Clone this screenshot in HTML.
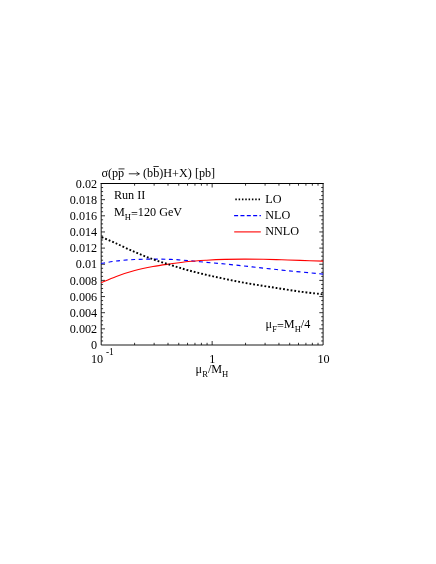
<!DOCTYPE html>
<html><head><meta charset="utf-8"><title>plot</title>
<style>
html,body{margin:0;padding:0;background:#fff;}
body{width:436px;height:564px;overflow:hidden;}
svg{display:block;}
text{font-family:"Liberation Serif",serif;font-size:12.2px;fill:#000;}
.s{font-size:8.6px;}
.ax line{stroke:#000;stroke-width:0.8;}
</style></head><body>
<svg width="436" height="564" viewBox="0 0 436 564">
<rect x="0" y="0" width="436" height="564" fill="#fff"/>
<g style="will-change:transform;mix-blend-mode:multiply">
<g class="ax">
<path d="M101.20 183.50 H323.10" fill="none" stroke="#000" stroke-width="1" stroke-linecap="square"/>
<path d="M101.20 183.50 V345.00 H323.10 V183.50" fill="none" stroke="#000" stroke-width="0.9" stroke-linecap="square"/>
<line x1="101.20" y1="340.96" x2="103.10" y2="340.96"/>
<line x1="323.10" y1="340.96" x2="321.20" y2="340.96"/>
<line x1="101.20" y1="336.93" x2="103.10" y2="336.93"/>
<line x1="323.10" y1="336.93" x2="321.20" y2="336.93"/>
<line x1="101.20" y1="332.89" x2="103.10" y2="332.89"/>
<line x1="323.10" y1="332.89" x2="321.20" y2="332.89"/>
<line x1="101.20" y1="328.85" x2="105.00" y2="328.85"/>
<line x1="323.10" y1="328.85" x2="319.30" y2="328.85"/>
<line x1="101.20" y1="324.81" x2="103.10" y2="324.81"/>
<line x1="323.10" y1="324.81" x2="321.20" y2="324.81"/>
<line x1="101.20" y1="320.77" x2="103.10" y2="320.77"/>
<line x1="323.10" y1="320.77" x2="321.20" y2="320.77"/>
<line x1="101.20" y1="316.74" x2="103.10" y2="316.74"/>
<line x1="323.10" y1="316.74" x2="321.20" y2="316.74"/>
<line x1="101.20" y1="312.70" x2="105.00" y2="312.70"/>
<line x1="323.10" y1="312.70" x2="319.30" y2="312.70"/>
<line x1="101.20" y1="308.66" x2="103.10" y2="308.66"/>
<line x1="323.10" y1="308.66" x2="321.20" y2="308.66"/>
<line x1="101.20" y1="304.62" x2="103.10" y2="304.62"/>
<line x1="323.10" y1="304.62" x2="321.20" y2="304.62"/>
<line x1="101.20" y1="300.59" x2="103.10" y2="300.59"/>
<line x1="323.10" y1="300.59" x2="321.20" y2="300.59"/>
<line x1="101.20" y1="296.55" x2="105.00" y2="296.55"/>
<line x1="323.10" y1="296.55" x2="319.30" y2="296.55"/>
<line x1="101.20" y1="292.51" x2="103.10" y2="292.51"/>
<line x1="323.10" y1="292.51" x2="321.20" y2="292.51"/>
<line x1="101.20" y1="288.48" x2="103.10" y2="288.48"/>
<line x1="323.10" y1="288.48" x2="321.20" y2="288.48"/>
<line x1="101.20" y1="284.44" x2="103.10" y2="284.44"/>
<line x1="323.10" y1="284.44" x2="321.20" y2="284.44"/>
<line x1="101.20" y1="280.40" x2="105.00" y2="280.40"/>
<line x1="323.10" y1="280.40" x2="319.30" y2="280.40"/>
<line x1="101.20" y1="276.36" x2="103.10" y2="276.36"/>
<line x1="323.10" y1="276.36" x2="321.20" y2="276.36"/>
<line x1="101.20" y1="272.32" x2="103.10" y2="272.32"/>
<line x1="323.10" y1="272.32" x2="321.20" y2="272.32"/>
<line x1="101.20" y1="268.29" x2="103.10" y2="268.29"/>
<line x1="323.10" y1="268.29" x2="321.20" y2="268.29"/>
<line x1="101.20" y1="264.25" x2="105.00" y2="264.25"/>
<line x1="323.10" y1="264.25" x2="319.30" y2="264.25"/>
<line x1="101.20" y1="260.21" x2="103.10" y2="260.21"/>
<line x1="323.10" y1="260.21" x2="321.20" y2="260.21"/>
<line x1="101.20" y1="256.18" x2="103.10" y2="256.18"/>
<line x1="323.10" y1="256.18" x2="321.20" y2="256.18"/>
<line x1="101.20" y1="252.14" x2="103.10" y2="252.14"/>
<line x1="323.10" y1="252.14" x2="321.20" y2="252.14"/>
<line x1="101.20" y1="248.10" x2="105.00" y2="248.10"/>
<line x1="323.10" y1="248.10" x2="319.30" y2="248.10"/>
<line x1="101.20" y1="244.06" x2="103.10" y2="244.06"/>
<line x1="323.10" y1="244.06" x2="321.20" y2="244.06"/>
<line x1="101.20" y1="240.02" x2="103.10" y2="240.02"/>
<line x1="323.10" y1="240.02" x2="321.20" y2="240.02"/>
<line x1="101.20" y1="235.99" x2="103.10" y2="235.99"/>
<line x1="323.10" y1="235.99" x2="321.20" y2="235.99"/>
<line x1="101.20" y1="231.95" x2="105.00" y2="231.95"/>
<line x1="323.10" y1="231.95" x2="319.30" y2="231.95"/>
<line x1="101.20" y1="227.91" x2="103.10" y2="227.91"/>
<line x1="323.10" y1="227.91" x2="321.20" y2="227.91"/>
<line x1="101.20" y1="223.88" x2="103.10" y2="223.88"/>
<line x1="323.10" y1="223.88" x2="321.20" y2="223.88"/>
<line x1="101.20" y1="219.84" x2="103.10" y2="219.84"/>
<line x1="323.10" y1="219.84" x2="321.20" y2="219.84"/>
<line x1="101.20" y1="215.80" x2="105.00" y2="215.80"/>
<line x1="323.10" y1="215.80" x2="319.30" y2="215.80"/>
<line x1="101.20" y1="211.76" x2="103.10" y2="211.76"/>
<line x1="323.10" y1="211.76" x2="321.20" y2="211.76"/>
<line x1="101.20" y1="207.72" x2="103.10" y2="207.72"/>
<line x1="323.10" y1="207.72" x2="321.20" y2="207.72"/>
<line x1="101.20" y1="203.69" x2="103.10" y2="203.69"/>
<line x1="323.10" y1="203.69" x2="321.20" y2="203.69"/>
<line x1="101.20" y1="199.65" x2="105.00" y2="199.65"/>
<line x1="323.10" y1="199.65" x2="319.30" y2="199.65"/>
<line x1="101.20" y1="195.61" x2="103.10" y2="195.61"/>
<line x1="323.10" y1="195.61" x2="321.20" y2="195.61"/>
<line x1="101.20" y1="191.58" x2="103.10" y2="191.58"/>
<line x1="323.10" y1="191.58" x2="321.20" y2="191.58"/>
<line x1="101.20" y1="187.54" x2="103.10" y2="187.54"/>
<line x1="323.10" y1="187.54" x2="321.20" y2="187.54"/>
<line x1="134.60" y1="345.00" x2="134.60" y2="342.80"/>
<line x1="134.60" y1="183.50" x2="134.60" y2="185.70"/>
<line x1="154.14" y1="345.00" x2="154.14" y2="342.80"/>
<line x1="154.14" y1="183.50" x2="154.14" y2="185.70"/>
<line x1="168.00" y1="345.00" x2="168.00" y2="342.80"/>
<line x1="168.00" y1="183.50" x2="168.00" y2="185.70"/>
<line x1="178.75" y1="345.00" x2="178.75" y2="342.80"/>
<line x1="178.75" y1="183.50" x2="178.75" y2="185.70"/>
<line x1="187.54" y1="345.00" x2="187.54" y2="342.80"/>
<line x1="187.54" y1="183.50" x2="187.54" y2="185.70"/>
<line x1="194.96" y1="345.00" x2="194.96" y2="342.80"/>
<line x1="194.96" y1="183.50" x2="194.96" y2="185.70"/>
<line x1="201.40" y1="345.00" x2="201.40" y2="342.80"/>
<line x1="201.40" y1="183.50" x2="201.40" y2="185.70"/>
<line x1="207.07" y1="345.00" x2="207.07" y2="342.80"/>
<line x1="207.07" y1="183.50" x2="207.07" y2="185.70"/>
<line x1="212.15" y1="345.00" x2="212.15" y2="341.00"/>
<line x1="212.15" y1="183.50" x2="212.15" y2="187.50"/>
<line x1="245.55" y1="345.00" x2="245.55" y2="342.80"/>
<line x1="245.55" y1="183.50" x2="245.55" y2="185.70"/>
<line x1="265.09" y1="345.00" x2="265.09" y2="342.80"/>
<line x1="265.09" y1="183.50" x2="265.09" y2="185.70"/>
<line x1="278.95" y1="345.00" x2="278.95" y2="342.80"/>
<line x1="278.95" y1="183.50" x2="278.95" y2="185.70"/>
<line x1="289.70" y1="345.00" x2="289.70" y2="342.80"/>
<line x1="289.70" y1="183.50" x2="289.70" y2="185.70"/>
<line x1="298.49" y1="345.00" x2="298.49" y2="342.80"/>
<line x1="298.49" y1="183.50" x2="298.49" y2="185.70"/>
<line x1="305.91" y1="345.00" x2="305.91" y2="342.80"/>
<line x1="305.91" y1="183.50" x2="305.91" y2="185.70"/>
<line x1="312.35" y1="345.00" x2="312.35" y2="342.80"/>
<line x1="312.35" y1="183.50" x2="312.35" y2="185.70"/>
<line x1="318.02" y1="345.00" x2="318.02" y2="342.80"/>
<line x1="318.02" y1="183.50" x2="318.02" y2="185.70"/>
</g>
<path d="M101.20 263.60 C103.72 263.17 110.72 261.68 116.30 261.00 C121.88 260.32 128.58 259.82 134.70 259.50 C140.82 259.18 146.95 259.12 153.00 259.10 C159.05 259.08 165.12 259.15 171.00 259.40 C176.88 259.65 182.35 260.10 188.30 260.60 C194.25 261.10 200.58 261.83 206.70 262.40 C212.82 262.97 218.78 263.40 225.00 264.00 C231.22 264.60 237.62 265.32 244.00 266.00 C250.38 266.68 257.02 267.42 263.30 268.10 C269.58 268.78 275.58 269.47 281.70 270.10 C287.82 270.73 293.10 271.23 300.00 271.90 C306.90 272.57 319.25 273.73 323.10 274.10" fill="none" stroke="#0000ff" stroke-width="1.15" stroke-dasharray="4 3.55"/>
<path d="M101.20 282.80 C103.72 281.73 110.72 278.45 116.30 276.40 C121.88 274.35 128.58 272.15 134.70 270.50 C140.82 268.85 146.95 267.62 153.00 266.50 C159.05 265.38 165.12 264.63 171.00 263.80 C176.88 262.97 182.35 262.10 188.30 261.50 C194.25 260.90 200.58 260.55 206.70 260.20 C212.82 259.85 218.78 259.58 225.00 259.40 C231.22 259.22 237.62 259.12 244.00 259.10 C250.38 259.08 257.02 259.18 263.30 259.30 C269.58 259.42 275.58 259.62 281.70 259.80 C287.82 259.98 293.10 260.18 300.00 260.40 C306.90 260.62 319.25 260.98 323.10 261.10" fill="none" stroke="#ff0000" stroke-width="1.1"/>
<path d="M101.20 236.90 C103.72 238.00 110.72 240.98 116.30 243.50 C121.88 246.02 128.58 249.37 134.70 252.00 C140.82 254.63 146.85 257.08 153.00 259.30 C159.15 261.52 165.72 263.47 171.60 265.30 C177.48 267.13 182.45 268.70 188.30 270.30 C194.15 271.90 200.58 273.47 206.70 274.90 C212.82 276.33 218.78 277.60 225.00 278.90 C231.22 280.20 237.62 281.53 244.00 282.70 C250.38 283.87 257.02 284.88 263.30 285.90 C269.58 286.92 275.58 287.85 281.70 288.80 C287.82 289.75 293.88 290.77 300.00 291.60 C306.12 292.43 314.55 293.33 318.40 293.80 C322.25 294.27 322.32 294.30 323.10 294.40" fill="none" stroke="#000" stroke-width="1.9" stroke-dasharray="1.8 1.989" stroke-dashoffset="-0.65"/>
<g>
<text x="97.2" y="349.10" text-anchor="end">0</text>
<text x="97.2" y="332.95" text-anchor="end">0.002</text>
<text x="97.2" y="316.80" text-anchor="end">0.004</text>
<text x="97.2" y="300.65" text-anchor="end">0.006</text>
<text x="97.2" y="284.50" text-anchor="end">0.008</text>
<text x="97.2" y="268.35" text-anchor="end">0.01</text>
<text x="97.2" y="252.20" text-anchor="end">0.012</text>
<text x="97.2" y="236.05" text-anchor="end">0.014</text>
<text x="97.2" y="219.90" text-anchor="end">0.016</text>
<text x="97.2" y="203.75" text-anchor="end">0.018</text>
<text x="97.2" y="187.60" text-anchor="end">0.02</text>
</g>
<!-- title -->
<text x="101.4" y="176.6">σ(pp</text>
<text x="215.2" y="176.6" text-anchor="end">(bb)H<tspan dy="1.4">+</tspan><tspan dy="-1.4">X) [pb]</tspan></text>
<path d="M128.8 173.8 H139.2 M136.6 171.7 Q137.6 173.4 139.4 173.8 Q137.6 174.2 136.6 175.9" fill="none" stroke="#000" stroke-width="0.8"/>
<line x1="118.5" y1="168.9" x2="124.5" y2="168.9" stroke="#000" stroke-width="0.8"/>
<line x1="153.4" y1="166.5" x2="158.8" y2="166.5" stroke="#000" stroke-width="0.8"/>
<!-- annotations -->
<text x="113.9" y="199.4">Run II</text>
<text x="113.9" y="215.6">M<tspan class="s" dy="4.3">H</tspan><tspan dy="-2.4">=</tspan><tspan dy="-1.9">120 GeV</tspan></text>
<text x="265.6" y="328.3">μ<tspan class="s" dy="3.4">F</tspan><tspan dy="-1.5">=</tspan><tspan dy="-1.9">M</tspan><tspan class="s" dy="3.4">H</tspan><tspan dy="-3.4">/4</tspan></text>
<!-- legend -->
<line x1="235.3" y1="199.4" x2="260" y2="199.4" stroke="#000" stroke-width="1.7" stroke-dasharray="1.5 1.82"/>
<line x1="234.1" y1="215.6" x2="260.9" y2="215.6" stroke="#0000ff" stroke-width="1.1" stroke-dasharray="4 2.35"/>
<line x1="234.2" y1="231.9" x2="260.8" y2="231.9" stroke="#ff0000" stroke-width="1.1"/>
<text x="265.2" y="203.2">LO</text>
<text x="265.2" y="219.4">NLO</text>
<text x="265.2" y="235.4">NNLO</text>
<!-- x labels -->
<text x="90.9" y="362.7">10</text>
<text x="106.0" y="354.7" style="font-size:9.4px">-1</text>
<text x="212.3" y="362.7" text-anchor="middle">1</text>
<text x="323.6" y="362.7" text-anchor="middle">10</text>
<text x="195.6" y="373.3">μ<tspan class="s" dy="3.4">R</tspan><tspan dy="-3.4">/M</tspan><tspan class="s" dy="3.4">H</tspan></text>
</g>
</svg>
</body></html>
